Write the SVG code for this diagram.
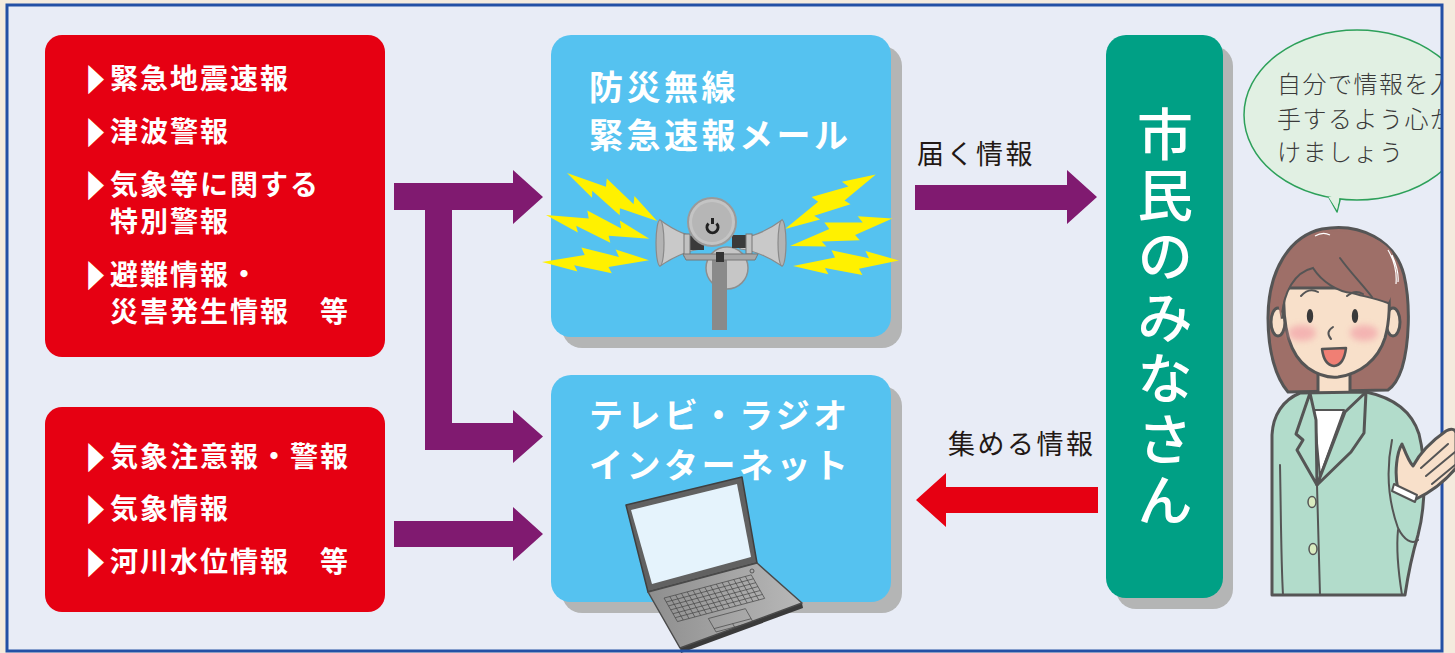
<svg xmlns="http://www.w3.org/2000/svg" width="1455" height="653" viewBox="0 0 1455 653">
  <style>
    .redbox { fill: #E60012; }
    .bluebox { fill: #55C2F0; }
    .shadow { fill: #B4B5B5; }
    .wtxt { fill: #FFFFFF; font-family: "Noto Sans CJK JP", sans-serif; font-weight: 700; }
    .item { font-size: 28px; letter-spacing: 2px; }
    .bullet { font-size: 31px; }
    .title { font-size: 34px; letter-spacing: 3.5px; }
    .label { fill: #231815; font-family: "Noto Sans CJK JP", sans-serif; font-weight: 400; font-size: 27px; letter-spacing: 2.5px; }
    .bubble { fill: #3A3A3A; font-family: "Noto Sans CJK JP", sans-serif; font-weight: 300; font-size: 24px; letter-spacing: 1.5px; }
    .vert { fill: #FFFFFF; font-family: "Noto Sans CJK JP", sans-serif; font-weight: 500; font-size: 56px; letter-spacing: 5px; writing-mode: vertical-rl; }
    .flow { fill: #801A70; }
    .back { fill: #E60012; }
    .bolt { fill: #FFF100; }
    .ink { stroke: #555555; stroke-width: 3; stroke-linejoin: round; stroke-linecap: round; }
    .thin { stroke: #555555; stroke-width: 2; fill: none; stroke-linecap: round; }
    .hair { fill: #9E6F68; }
    .skin { fill: #F8E0CA; }
    .jacket { fill: #B2DCCB; }
  </style>
  <defs>
    <clipPath id="frameClip">
      <rect x="7" y="5" width="1435" height="646"/>
    </clipPath>
    <path id="boltShape" d="M0,0 L40,-5 L37,-11 L72,-3 L69,-9 L100,0 L62,5 L65,10 L30,3 L33,8 Z"/>
    <filter id="soft" x="-50%" y="-50%" width="200%" height="200%">
      <feGaussianBlur stdDeviation="3"/>
    </filter>
    <linearGradient id="deck" x1="0" y1="0" x2="1" y2="0">
      <stop offset="0" stop-color="#8E8E8E"/>
      <stop offset="1" stop-color="#B8B8B8"/>
    </linearGradient>
  </defs>

  <!-- page and framed panel -->
  <rect x="0" y="0" width="1455" height="653" fill="#F4EBDE"/>
  <rect x="7" y="5" width="1435" height="646" fill="#E8ECF6"/>

  <!-- sources: red boxes -->
  <g id="source-warnings">
    <rect class="redbox" x="45" y="35" width="340" height="322" rx="17"/>
    <text class="wtxt bullet" transform="translate(86,91) scale(0.62,1)">▶</text>
    <text class="wtxt item" x="110" y="89">緊急地震速報</text>
    <text class="wtxt bullet" transform="translate(86,144) scale(0.62,1)">▶</text>
    <text class="wtxt item" x="110" y="142">津波警報</text>
    <text class="wtxt bullet" transform="translate(86,197) scale(0.62,1)">▶</text>
    <text class="wtxt item" x="110" y="195">気象等に関する</text>
    <text class="wtxt item" x="110" y="232">特別警報</text>
    <text class="wtxt bullet" transform="translate(86,287) scale(0.62,1)">▶</text>
    <text class="wtxt item" x="110" y="285">避難情報・</text>
    <text class="wtxt item" x="110" y="322">災害発生情報　等</text>
  </g>

  <g id="source-weather">
    <rect class="redbox" x="45" y="407" width="340" height="205" rx="17"/>
    <text class="wtxt bullet" transform="translate(86,469) scale(0.62,1)">▶</text>
    <text class="wtxt item" x="110" y="467">気象注意報・警報</text>
    <text class="wtxt bullet" transform="translate(86,521) scale(0.62,1)">▶</text>
    <text class="wtxt item" x="110" y="519">気象情報</text>
    <text class="wtxt bullet" transform="translate(86,574) scale(0.62,1)">▶</text>
    <text class="wtxt item" x="110" y="572">河川水位情報　等</text>
  </g>

  <!-- channel: municipal radio / emergency mail -->
  <g id="channel-radio">
    <rect class="shadow" x="562" y="46" width="340" height="302" rx="20"/>
    <rect class="bluebox" x="551" y="35" width="340" height="302" rx="20"/>
    <text class="wtxt title" x="589" y="100">防災無線</text>
    <text class="wtxt title" x="589" y="148">緊急速報メール</text>
    <!-- lightning -->
    <use href="#boltShape" class="bolt" transform="translate(567,173) rotate(28) scale(1.02,1.25)"/>
    <use href="#boltShape" class="bolt" transform="translate(546,215) rotate(13) scale(1.06,1.25)"/>
    <use href="#boltShape" class="bolt" transform="translate(542,262) rotate(-1) scale(1.07,1.25)"/>
    <use href="#boltShape" class="bolt" transform="translate(785,229) rotate(-31) scale(1.06,1.25)"/>
    <use href="#boltShape" class="bolt" transform="translate(790,246) rotate(-15) scale(1.06,1.25)"/>
    <use href="#boltShape" class="bolt" transform="translate(793,266) rotate(-3) scale(1.06,1.25)"/>
    <!-- loudspeaker tower -->
    <ellipse cx="727" cy="268" rx="21" ry="21" fill="#C6C6C6" stroke="#8E8E8E" stroke-width="1.5"/>
    <rect x="712" y="258" width="15" height="72" fill="#8A8A8A"/>
    <path d="M660,220 C675,231 690,237 702,238 L702,249 C690,250 675,256 660,266 Z" fill="#C9C9C9" stroke="#8A8A8A" stroke-width="1.2"/>
    <ellipse cx="660" cy="243" rx="4" ry="23" fill="#B3B3B3" stroke="#8A8A8A" stroke-width="1.2"/>
    <path d="M782,220 C767,231 752,237 740,238 L740,249 C752,250 767,256 782,266 Z" fill="#C9C9C9" stroke="#8A8A8A" stroke-width="1.2"/>
    <ellipse cx="782" cy="243" rx="4" ry="23" fill="#B3B3B3" stroke="#8A8A8A" stroke-width="1.2"/>
    <rect x="690" y="236" width="14" height="14" fill="#3A3A3A"/>
    <rect x="684" y="234" width="6" height="22" fill="#C2C2C2" stroke="#777" stroke-width="1"/>
    <rect x="732" y="235" width="14" height="13" fill="#3A3A3A"/>
    <rect x="746" y="234" width="6" height="20" fill="#C2C2C2" stroke="#777" stroke-width="1"/>
    <polygon points="683,254 758,254 755,260 686,260" fill="#A8A8A8" stroke="#777" stroke-width="1"/>
    <rect x="716" y="252" width="8" height="10" fill="#333"/>
    <circle cx="712" cy="222" r="24" fill="#C4C4C4" stroke="#9A9A9A" stroke-width="2"/>
    <circle cx="712" cy="222" r="20" fill="#B6B6B6"/>
    <path d="M708.5,223.5 A5.5,5.5 0 1,0 716.5,223.5" fill="none" stroke="#222" stroke-width="3"/>
    <line x1="712.5" y1="218" x2="712.5" y2="224" stroke="#222" stroke-width="3"/>
  </g>

  <!-- channel: TV / radio / internet -->
  <g id="channel-media">
    <rect class="shadow" x="562" y="386" width="340" height="227" rx="20"/>
    <rect class="bluebox" x="551" y="375" width="340" height="227" rx="20"/>
    <text class="wtxt title" x="589" y="428">テレビ・ラジオ</text>
    <text class="wtxt title" x="589" y="478">インターネット</text>
    <!-- laptop -->
    <polygon points="626,505 742,477 757,563 648,592" fill="#616161" stroke="#3F3F3F" stroke-width="1.5" stroke-linejoin="round"/>
    <polygon points="631,510 737,484 751,557 652,584" fill="#E5F3FC"/>
    <polygon points="680,648 802,603 803,608 681,653" fill="#3A3A3A"/>
    <polygon points="648,592 757,563 802,603 680,648" fill="url(#deck)" stroke="#4A4A4A" stroke-width="1.5" stroke-linejoin="round"/>
    <circle cx="752" cy="571" r="2" fill="none" stroke="#444" stroke-width="0.8"/>
    <g transform="matrix(1.09,-0.29,0.32,0.56,648,592)" fill="none" stroke="#444" stroke-width="0.7">
      <rect x="10" y="16" width="80" height="42" vector-effect="non-scaling-stroke"/>
      <path vector-effect="non-scaling-stroke" d="M10,23 H90 M10,30 H90 M10,37 H90 M10,44 H90 M10,51 H90 M15.3,16 V58 M20.6,16 V58 M26,16 V58 M31.3,16 V58 M36.6,16 V58 M42,16 V58 M47.3,16 V58 M52.6,16 V58 M58,16 V58 M63.3,16 V58 M68.6,16 V58 M74,16 V58 M79.3,16 V58 M84.6,16 V58"/>
      <rect x="36" y="66" width="34" height="24" vector-effect="non-scaling-stroke"/>
      <path vector-effect="non-scaling-stroke" d="M36,84 H70 M53,84 V90"/>
    </g>
  </g>

  <!-- recipients -->
  <g id="citizens">
    <rect class="shadow" x="1116" y="46" width="117" height="563" rx="20"/>
    <rect x="1106" y="35" width="117" height="563" rx="20" fill="#00A085"/>
    <text class="vert" x="1165" y="106">市民のみなさん</text>
  </g>

  <!-- connectors -->
  <g id="connectors">
    <path class="flow" d="M394,183 L513,183 L513,170 L543,197 L513,224 L513,210 L394,210 Z"/>
    <path class="flow" d="M425,205 L452,205 L452,423 L513,423 L513,410 L543,436.5 L513,463 L513,450 L425,450 Z"/>
    <path class="flow" d="M394,521 L513,521 L513,507 L543,534 L513,561 L513,547 L394,547 Z"/>
    <path class="flow" d="M915,185 L1067,185 L1067,170 L1097,197 L1067,224 L1067,210 L915,210 Z"/>
    <text class="label" x="917" y="164">届く情報</text>
    <path class="back" d="M1098,487 L946,487 L946,473 L916,500 L946,527 L946,513 L1098,513 Z"/>
    <text class="label" x="948" y="454">集める情報</text>
  </g>

  <!-- speech bubble -->
  <g id="speech" clip-path="url(#frameClip)">
    <path d="M1327,194 L1337,212 L1341,196" fill="#E1F0E3" stroke="#2DA05A" stroke-width="1.5" stroke-linejoin="round"/>
    <ellipse cx="1357" cy="115" rx="113" ry="85" fill="#E1F0E3" stroke="#2DA05A" stroke-width="1.5"/>
    <path d="M1328.5,197 L1337,210 L1339.5,197 Z" fill="#E1F0E3"/>
    <text class="bubble" x="1277" y="93">自分で情報を入</text>
    <text class="bubble" x="1277" y="128">手するよう心が</text>
    <text class="bubble" x="1277" y="161">けましょう</text>
  </g>

  <!-- panel border -->
  <rect x="7" y="5" width="1435" height="646" fill="none" stroke="#2350A5" stroke-width="3"/>

  <!-- presenter -->
  <g id="presenter">
    <path class="hair ink" d="M1288,392 C1276,378 1268,352 1268,318 C1268,270 1290,236 1322,229 C1360,222 1395,240 1404,275 C1411,305 1409,345 1402,368 C1398,380 1394,386 1388,390 Z"/>
    <path class="skin ink" d="M1318,368 L1318,400 L1350,400 L1350,366 Z"/>
    <ellipse class="skin ink" cx="1278" cy="322" rx="7" ry="14"/>
    <ellipse class="skin ink" cx="1393" cy="322" rx="7" ry="14"/>
    <path class="skin ink" d="M1284,288 C1282,330 1290,355 1308,368 C1318,375 1328,378 1338,377 C1360,374 1378,360 1385,338 C1390,320 1390,300 1388,288 Z"/>
    <path class="hair" d="M1281,320 C1282,292 1295,272 1313,268 C1322,282 1338,292 1352,293 C1362,296 1374,298 1388,303 C1396,288 1399,270 1392,252 C1380,236 1352,229 1326,232 C1300,237 1284,252 1279,276 C1277,292 1278,306 1281,320 Z"/>
    <path class="thin" stroke-width="3" d="M1282,318 C1283,292 1295,272 1313,268 C1322,282 1338,292 1352,293 C1362,296 1374,298 1388,303"/>
    <path class="thin" d="M1340,258 C1350,272 1362,284 1372,297"/>
    <path d="M1388,250 C1394,260 1397,272 1396,284 M1392,255 C1396,264 1399,274 1398,282 M1315,236 C1320,233 1326,233 1330,235" stroke="#FFFFFF" stroke-width="1.2" fill="none"/>
    <ellipse cx="1302" cy="333" rx="14" ry="8" fill="#F2A2A8" opacity="0.7" filter="url(#soft)"/>
    <ellipse cx="1364" cy="333" rx="14" ry="8" fill="#F2A2A8" opacity="0.7" filter="url(#soft)"/>
    <ellipse cx="1310" cy="316" rx="3.2" ry="7" fill="#3A3A3A"/>
    <ellipse cx="1355" cy="316" rx="3.2" ry="7" fill="#3A3A3A"/>
    <path class="thin" stroke-width="2.5" d="M1301,296 Q1309,287 1318,292"/>
    <path class="thin" stroke-width="2.5" d="M1347,296 Q1355,289 1363,294"/>
    <path class="thin" d="M1333,327 Q1325,332 1331,339"/>
    <path d="M1322,349 L1346,348 Q1344,365 1334,366 Q1324,365 1322,349 Z" fill="#F07F74" stroke="#555" stroke-width="2.5" stroke-linejoin="round"/>
    <!-- jacket -->
    <path class="jacket ink" d="M1300,393 C1283,400 1273,415 1272,435 L1272,595 L1405,595 C1408,575 1412,555 1418,535 C1426,505 1426,462 1419,434 C1412,412 1395,398 1366,392 Z"/>
    <path d="M1314,410 L1344,410 L1320,476 Z" fill="#FFFFFF" stroke="#555" stroke-width="2" stroke-linejoin="round"/>
    <path class="jacket ink" stroke-width="2.5" d="M1310,393 L1296,434 L1303,440 L1297,450 L1317,485 L1316,420 Z"/>
    <path class="jacket ink" stroke-width="2.5" d="M1366,392 L1364,433 L1351,452 L1317,485 L1345,412 Z"/>
    <path class="thin" d="M1317,485 L1320,595"/>
    <ellipse cx="1312" cy="502" rx="4" ry="5.5" fill="#D9EBC0" stroke="#555" stroke-width="1.5"/>
    <ellipse cx="1313" cy="549" rx="4" ry="5.5" fill="#D9EBC0" stroke="#555" stroke-width="1.5"/>
    <path class="thin" d="M1280,465 C1281,515 1281,560 1283,595"/>
    <path class="thin" d="M1392,440 C1386,470 1388,500 1398,528 C1404,540 1412,545 1418,540"/>
    <path class="thin" d="M1402,595 C1398,570 1396,550 1398,530"/>
    <!-- waving hand -->
    <path class="skin ink" d="M1398,490 C1394,472 1397,452 1402,444 C1406,454 1409,462 1413,466 C1421,451 1433,440 1446,431 C1451,428 1455,429 1456,433 L1456,468 C1446,480 1431,492 1416,499 Z"/>
    <path class="thin" d="M1421,468 L1448,444 M1426,476 L1455,452 M1432,484 L1455,465"/>
    <path d="M1394,484 L1417,495 L1415,502 L1392,491 Z" fill="#FFFFFF" stroke="#555" stroke-width="2" stroke-linejoin="round"/>
  </g>
</svg>
